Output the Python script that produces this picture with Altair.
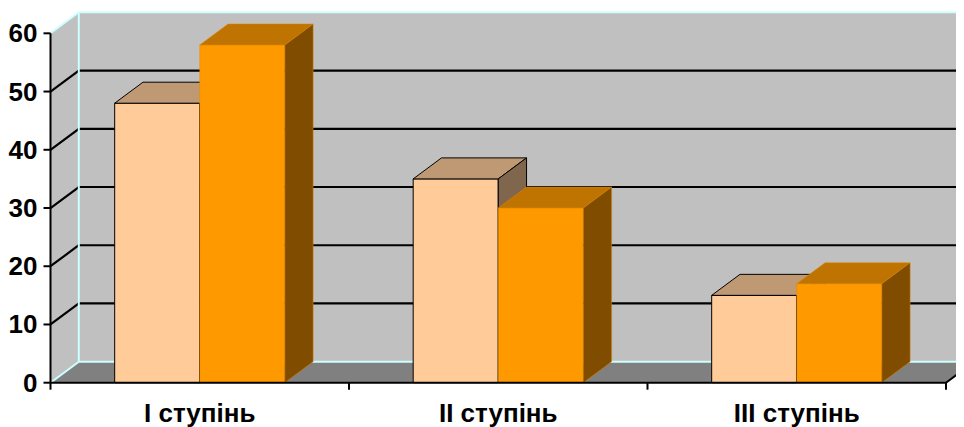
import altair as alt
import pandas as pd

# ---------------- data ----------------
categories = ["I ступінь", "II ступінь", "III ступінь"]
series_a = [48, 35, 15]
series_b = [58, 30, 17]
y_ticks = [0, 10, 20, 30, 40, 50, 60]

# ---------------- layout / style constants ----------------
W, H = 948, 419
CAT_PX = 298.5          # pixels per category along the front
VAL_PX = 5.823          # pixels per value unit
X0, Y0 = 42.5, 374.7    # front origin inside the chart (px)
DEPTH_X, DEPTH_Y = 28.3, 21.0
du = DEPTH_X / CAT_PX
dv = DEPTH_Y / VAL_PX
YMAX = max(y_ticks)
NCAT = len(categories)
BW = 0.285              # bar width in category units
TICK_X = 7 / CAT_PX
TICK_Y = 7 / VAL_PX

FONT = "Liberation Sans"
WALL = "#C0C0C0"
FLOOR = "#808080"
EDGE = "#CCFFFF"
COLS = [("#FFCC99", "#BF9973", "#80664D", "black", 1.0),
        ("#FF9900", "#BF7300", "#804D00", "#E08800", 0.5)]

xdom = [-X0 / CAT_PX, (W - X0) / CAT_PX]
ydom = [(Y0 - H) / VAL_PX, Y0 / VAL_PX]
XS = alt.Scale(domain=xdom, nice=False, zero=False)
YS = alt.Scale(domain=ydom, nice=False, zero=False)
XR = xdom[1] + 1


def X(f):
    return alt.X(f, type="quantitative", scale=XS, axis=None, stack=None)


def Y(f):
    return alt.Y(f, type="quantitative", scale=YS, axis=None, stack=None)


def X2(f):
    return alt.X2(f)


def Y2(f):
    return alt.Y2(f)


layers = []

# back wall
wall = pd.DataFrame({"x": [du], "x2": [XR], "y": [dv], "y2": [YMAX + dv]})
layers.append(alt.Chart(wall).mark_rect(fill=WALL, clip=True).encode(
    x=X("x"), x2=X2("x2"), y=Y("y"), y2=Y2("y2")))

# left side wall
side_wall = pd.DataFrame({"x": [0, du], "y": [0, dv], "y2": [YMAX, YMAX + dv]})
layers.append(alt.Chart(side_wall).mark_area(orient="vertical", fill=WALL).encode(
    x=X("x"), y=Y("y"), y2=Y2("y2")))

# floor
floor = pd.DataFrame({"y": [0, dv], "x": [0, du], "x2": [NCAT, NCAT + du]})
layers.append(alt.Chart(floor).mark_area(orient="horizontal", fill=FLOOR, clip=True).encode(
    y=Y("y"), x=X("x"), x2=X2("x2")))

# gridlines (back wall + side wall diagonals)
grid_rows = []
for v in y_ticks[1:-1]:
    grid_rows.append({"x": du, "x2": XR, "y": v + dv, "y2": v + dv})
    grid_rows.append({"x": 0, "x2": du, "y": v, "y2": v + dv})
grid = pd.DataFrame(grid_rows)
layers.append(alt.Chart(grid).mark_rule(color="black", strokeWidth=2.2, clip=True).encode(
    x=X("x"), x2=X2("x2"), y=Y("y"), y2=Y2("y2")))

# wall edges (light cyan)
edge_rows = [
    {"x": du, "x2": XR, "y": YMAX + dv, "y2": YMAX + dv},
    {"x": 0, "x2": du, "y": YMAX, "y2": YMAX + dv},
    {"x": du, "x2": du, "y": dv, "y2": YMAX + dv},
    {"x": du, "x2": XR, "y": dv, "y2": dv},
    {"x": 0, "x2": du, "y": 0, "y2": dv},
]
edges = pd.DataFrame(edge_rows)
layers.append(alt.Chart(edges).mark_rule(color=EDGE, strokeWidth=2, clip=True).encode(
    x=X("x"), x2=X2("x2"), y=Y("y"), y2=Y2("y2")))

# bars (3-D: front, top, side)
for s, vals in enumerate([series_a, series_b]):
    front_c, top_c, side_c, stroke_c, sw = COLS[s]
    fr, tp, sd = [], [], []
    for i, v in enumerate(vals):
        a = i + 0.5 - BW + s * BW
        b = a + BW
        fr.append({"x": a, "x2": b, "y": 0, "y2": v})
        tp.append({"pid": i, "y": v, "x": a, "x2": b})
        tp.append({"pid": i, "y": v + dv, "x": a + du, "x2": b + du})
        sd.append({"pid": i, "x": b, "y": 0, "y2": v})
        sd.append({"pid": i, "x": b + du, "y": dv, "y2": v + dv})
    layers.append(alt.Chart(pd.DataFrame(fr)).mark_rect(
        fill=front_c, stroke=stroke_c, strokeWidth=sw).encode(
        x=X("x"), x2=X2("x2"), y=Y("y"), y2=Y2("y2")))
    layers.append(alt.Chart(pd.DataFrame(tp)).mark_area(
        orient="horizontal", fill=top_c, stroke=stroke_c, strokeWidth=sw).encode(
        y=Y("y"), x=X("x"), x2=X2("x2"), detail="pid:N"))
    layers.append(alt.Chart(pd.DataFrame(sd)).mark_area(
        orient="vertical", fill=side_c, stroke=stroke_c, strokeWidth=sw).encode(
        x=X("x"), y=Y("y"), y2=Y2("y2"), detail="pid:N"))

# axes lines and ticks
ax_rows = [
    {"x": 0, "x2": 0, "y": 0, "y2": YMAX},
    {"x": 0, "x2": NCAT, "y": 0, "y2": 0},
    {"x": NCAT, "x2": NCAT + du, "y": 0, "y2": dv},
]
for v in y_ticks:
    ax_rows.append({"x": -TICK_X, "x2": 0, "y": v, "y2": v})
for i in range(NCAT + 1):
    ax_rows.append({"x": i, "x2": i, "y": 0, "y2": -TICK_Y})
axes = pd.DataFrame(ax_rows)
layers.append(alt.Chart(axes).mark_rule(color="black", strokeWidth=2, clip=True).encode(
    x=X("x"), x2=X2("x2"), y=Y("y"), y2=Y2("y2")))

# tick labels
ylab = pd.DataFrame({"x": [0] * len(y_ticks), "y": y_ticks, "t": [str(v) for v in y_ticks]})
layers.append(alt.Chart(ylab).mark_text(
    align="right", baseline="alphabetic", dx=-13, dy=9, font=FONT, fontWeight="bold",
    fontSize=26, color="black").encode(x=X("x"), y=Y("y"), text="t:N"))

xlab = pd.DataFrame({"x": [i + 0.5 for i in range(NCAT)], "y": [0] * NCAT, "t": categories})
layers.append(alt.Chart(xlab).mark_text(
    align="center", baseline="alphabetic", dy=39, font=FONT, fontWeight="bold",
    fontSize=26, color="black").encode(x=X("x"), y=Y("y"), text="t:N"))

chart = alt.layer(*layers).properties(
    width=W, height=H, padding=0,
    autosize=alt.AutoSizeParams(type="none"),
    background="white",
).configure_view(stroke=None)

chart.save("out.html", embed_options={"renderer": "svg", "actions": False})
